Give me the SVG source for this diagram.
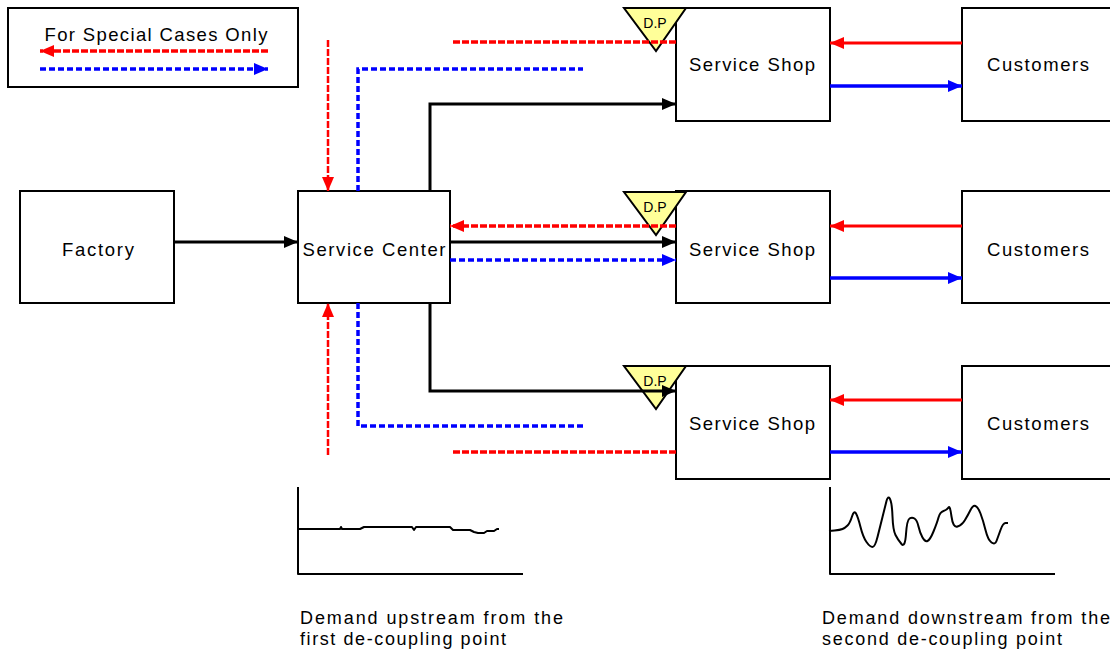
<svg xmlns="http://www.w3.org/2000/svg" width="1110" height="649" viewBox="0 0 1110 649">
<style>
.box{fill:#fff;stroke:#000;stroke-width:2}
.lbl{font-family:"Liberation Sans",Arial,sans-serif;font-size:18.5px;fill:#000;text-anchor:middle}
.cap{font-family:"Liberation Sans",Arial,sans-serif;font-size:18px;fill:#000}
.dp{fill:#FFFF99;stroke:#000;stroke-width:2}
.dpt{font-family:"Liberation Sans",Arial,sans-serif;font-size:14px;fill:#000;text-anchor:middle}
.blk{fill:none;stroke:#000;stroke-width:3}
.rs{fill:none;stroke:#f00;stroke-width:3}
.bs{fill:none;stroke:#00f;stroke-width:3.5}
.rd{fill:none;stroke:#f00;stroke-width:3.5;stroke-dasharray:7 2}
.rdv{fill:none;stroke:#f00;stroke-width:2.5;stroke-dasharray:7 2}
.bd{fill:none;stroke:#00f;stroke-width:3.5;stroke-dasharray:6 3}
.chart{fill:none;stroke:#000;stroke-width:2;stroke-linejoin:round}
</style>
<defs>
<marker id="ak" markerUnits="userSpaceOnUse" markerWidth="14" markerHeight="12" refX="14" refY="6" orient="auto"><path d="M0,0 L14,6 L0,12 z" fill="#000"/></marker>
<marker id="ar" markerUnits="userSpaceOnUse" markerWidth="14" markerHeight="12" refX="14" refY="6" orient="auto"><path d="M0,0 L14,6 L0,12 z" fill="#f00"/></marker>
<marker id="ab" markerUnits="userSpaceOnUse" markerWidth="14" markerHeight="12" refX="14" refY="6" orient="auto"><path d="M0,0 L14,6 L0,12 z" fill="#00f"/></marker>
</defs>

<g id="legend">
<rect class="box" x="8" y="8" width="290" height="79"/>
<text class="lbl" x="156" y="41" textLength="223" lengthAdjust="spacing">For Special Cases Only</text>
<path class="rd" d="M268,51 L40,51" marker-end="url(#ar)"/>
<path class="bd" d="M40,69 L268,69" marker-end="url(#ab)"/>
</g>

<g id="factory">
<rect class="box" x="20" y="191" width="154" height="112"/>
<text class="lbl" x="98" y="256" textLength="72" lengthAdjust="spacing">Factory</text>
</g>
<g id="service-center">
<rect class="box" x="298" y="191" width="152" height="112"/>
<text class="lbl" x="374" y="256" textLength="143" lengthAdjust="spacing">Service Center</text>
</g>
<g id="service-shop-1">
<rect class="box" x="676" y="8" width="154" height="113"/>
<text class="lbl" x="752" y="71" textLength="126" lengthAdjust="spacing">Service Shop</text>
</g>
<g id="service-shop-2">
<rect class="box" x="676" y="191" width="154" height="112"/>
<text class="lbl" x="752" y="256" textLength="126" lengthAdjust="spacing">Service Shop</text>
</g>
<g id="service-shop-3">
<rect class="box" x="676" y="366" width="154" height="113"/>
<text class="lbl" x="752" y="430" textLength="126" lengthAdjust="spacing">Service Shop</text>
</g>
<g id="customers-1">
<rect class="box" x="962" y="8" width="154" height="113"/>
<text class="lbl" x="1038" y="71" textLength="102" lengthAdjust="spacing">Customers</text>
</g>
<g id="customers-2">
<rect class="box" x="962" y="191" width="154" height="112"/>
<text class="lbl" x="1038" y="256" textLength="102" lengthAdjust="spacing">Customers</text>
</g>
<g id="customers-3">
<rect class="box" x="962" y="366" width="154" height="113"/>
<text class="lbl" x="1038" y="430" textLength="102" lengthAdjust="spacing">Customers</text>
</g>

<g id="dp-1">
<path class="dp" d="M624,8 L686,8 L656,51 z"/>
<text class="dpt" x="655" y="28">D.P</text>
</g>
<g id="dp-2">
<path class="dp" d="M624,192 L686,192 L656,235 z"/>
<text class="dpt" x="655" y="212">D.P</text>
</g>
<g id="dp-3">
<path class="dp" d="M624,366 L686,366 L656,409 z"/>
<text class="dpt" x="655" y="386">D.P</text>
</g>

<g id="connectors">
<path class="blk" d="M174,242 L298,242" marker-end="url(#ak)"/>
<path class="blk" d="M450,242 L676,242" marker-end="url(#ak)"/>
<path class="blk" d="M430,191 L430,104 L676,104" marker-end="url(#ak)"/>
<path class="blk" d="M430,303 L430,391 L676,391" marker-end="url(#ak)"/>
<path class="rd" d="M676,226 L450,226" marker-end="url(#ar)"/>
<path class="bd" d="M450,260 L676,260" marker-end="url(#ab)"/>
<path class="rd" d="M676,42 L452,42"/>
<path class="rd" d="M676,452 L452,452"/>
<path class="bd" d="M358,191 L358,69 L583,69"/>
<path class="bd" d="M358,303 L358,426 L583,426"/>
<path class="rdv" d="M328,40 L328,191" marker-end="url(#ar)"/>
<path class="rdv" d="M328,455 L328,303" marker-end="url(#ar)"/>
<path class="rs" d="M962,43 L830,43" marker-end="url(#ar)"/>
<path class="bs" d="M830,86 L962,86" marker-end="url(#ab)"/>
<path class="rs" d="M962,226 L830,226" marker-end="url(#ar)"/>
<path class="bs" d="M830,278 L962,278" marker-end="url(#ab)"/>
<path class="rs" d="M962,400 L830,400" marker-end="url(#ar)"/>
<path class="bs" d="M830,452 L962,452" marker-end="url(#ab)"/>
</g>

<g id="chart-upstream">
<path class="chart" d="M298,487 L298,574 L523,574"/>
<path class="chart" d="M298,529 L340,529 L341,527 L342,529 L360,529 L364,527 L412,527 L414,530 L416,527 L450,527 L453,530 L470,530 L474,532 L478,533 L484,533 L487,531 L494,531 L497,529 L499,529"/>
</g>
<g id="chart-downstream">
<path class="chart" d="M830,487 L830,574 L1055,574"/>
<path class="chart" d="M829,531 L834.5,530.5 Q840,530 842.5,529 Q845,528 847.5,525.5 Q850,523 852,516.5 Q854,510 856,513.5 Q858,517 860.5,527 Q863,537 866.5,542 Q870,547 872.5,547 Q875,547 877.5,537 Q880,527 882.5,517 Q885,507 886.5,501 Q888,495 890,499 Q892,503 892.5,516.5 Q893,530 895.5,535 Q898,540 901.5,544 Q905,548 906,534 Q907,520 909.5,518.5 Q912,517 914.5,518.5 Q917,520 918.5,526.5 Q920,533 922.5,537.5 Q925,542 927.5,541 Q930,540 933.5,531.5 Q937,523 938.5,517.5 Q940,512 943.5,511 Q947,510 948.5,507.5 Q950,505 951.5,516.5 Q953,528 957.5,526.5 Q962,525 965,520 Q968,515 970.5,510 Q973,505 975.5,506 Q978,507 980.5,513.5 Q983,520 985.5,530 Q988,540 991.5,542.5 Q995,545 996.5,541 Q998,537 1000.5,530 Q1003,523 1005.5,523 L1008,523"/>
</g>

<g id="captions">
<text class="cap" x="300" y="624" textLength="263" lengthAdjust="spacing">Demand upstream from the</text>
<text class="cap" x="300" y="645" textLength="206" lengthAdjust="spacing">first de-coupling point</text>
<text class="cap" x="822" y="624" textLength="288" lengthAdjust="spacing">Demand downstream from the</text>
<text class="cap" x="822" y="645" textLength="240" lengthAdjust="spacing">second de-coupling point</text>
</g>
</svg>
